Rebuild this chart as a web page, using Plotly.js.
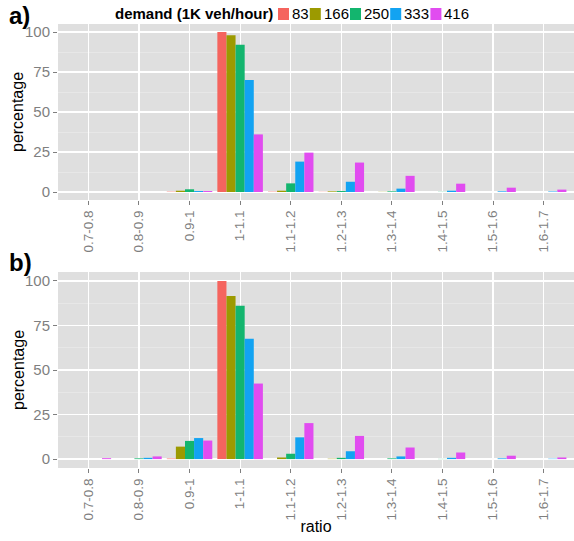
<!DOCTYPE html>
<html><head><meta charset="utf-8">
<script src="https://cdn.plot.ly/plotly-3.0.1.min.js"></script>
<style>html,body{margin:0;padding:0;background:#fff}</style>
</head><body><div id="chart" style="width:574px;height:541px"></div>
<script>
// ---- data ----
const ratioBins = ['0.7-0.8','0.8-0.9','0.9-1','1-1.1','1.1-1.2','1.2-1.3','1.3-1.4','1.4-1.5','1.5-1.6','1.6-1.7'];
const demandLevels = ['83','166','250','333','416'];
const seriesColors = ['#F5645E','#9C9A00','#13B56E','#12A3F2','#E14CF0'];
// panel a)
const a83  = [0, 0, 0.2, 100, 0.2, 0.1, 0,   0,   0,   0];
const a166 = [0, 0, 0.8, 98,  0.8, 0.4, 0.1, 0,   0,   0];
const a250 = [0, 0, 1.7, 92,  5.4, 0.6, 0.4, 0.1, 0,   0];
const a333 = [0, 0, 0.6, 70,  19,  6.4, 2.1, 0.8, 0.4, 0.3];
const a416 = [0, 0, 0.6, 36,  24.6,18.4,10.1,5.2, 2.7, 1.5];
// panel b)
const b83  = [0,   0,   0.3, 100,  0,    0,   0,   0,   0,   0];
const b166 = [0,   0,   7,   91.5, 0.9,  0.2, 0,   0,   0,   0];
const b250 = [0,   0.4, 10.2,86,   3,    0.7, 0.4, 0.1, 0,   0];
const b333 = [0,   0.7, 11.8,67.6, 12.2, 4.4, 1.5, 0.7, 0.4, 0.2];
const b416 = [0.5, 1.5, 10.4,42.4, 20.2, 13,  6.5, 3.7, 1.9, 0.9];

const panelA = [a83, a166, a250, a333, a416];
const panelB = [b83, b166, b250, b333, b416];

// ---- geometry helpers (pixels -> paper) ----
const W = 574, H = 541;
const px = v => v / W;
const py = v => 1 - v / H;

const traces = [];
panelA.forEach((vals, i) => traces.push({
  type: 'bar', x: ratioBins, y: vals, name: demandLevels[i],
  marker: {color: seriesColors[i], line: {width: 0}},
  xaxis: 'x', yaxis: 'y', showlegend: false, hoverinfo: 'x+y+name'
}));
panelB.forEach((vals, i) => traces.push({
  type: 'bar', x: ratioBins, y: vals, name: demandLevels[i],
  marker: {color: seriesColors[i], line: {width: 0}},
  xaxis: 'x2', yaxis: 'y2', showlegend: false, hoverinfo: 'x+y+name'
}));

const font = 'Liberation Sans, Arial, sans-serif';
const gridCol = '#FFFFFF';

function xAx(anchor, withTitle) {
  const ax = {
    domain: [px(58), 1], anchor: anchor, type: 'category',
    range: [-0.6, 9.6], showgrid: true, gridcolor: gridCol, gridwidth: 1.2,
    ticks: 'outside', ticklen: 4, tickcolor: '#7F7F7F', tickwidth: 1,
    tickangle: -90, tickfont: {family: font, size: 13.5, color: '#7F7F7F'},
    showline: false, zeroline: false, automargin: false
  };
  if (withTitle) ax.title = {text: 'ratio', font: {family: font, size: 16, color: '#000'}, standoff: 1};
  return ax;
}
function yAx(anchor, top, bottom) {
  return {
    domain: [py(bottom), py(top)], anchor: anchor,
    range: [-5, 105], tick0: 0, dtick: 25,
    showgrid: true, gridcolor: gridCol, gridwidth: 1.2,
    minor: {tick0: 12.5, dtick: 25, showgrid: true, gridcolor: '#EDEDED', gridwidth: 0.6},
    ticks: 'outside', ticklen: 4, tickcolor: '#7F7F7F', tickwidth: 1,
    tickfont: {family: font, size: 15, color: '#7F7F7F'},
    showline: false, zeroline: false, automargin: false
  };
}

// ---- custom horizontal legend (ggplot style) ----
const shapes = [];
const annotations = [];
const legY = 14;
annotations.push({
  xref: 'paper', yref: 'paper', x: px(275), y: py(legY), xanchor: 'right', yanchor: 'middle',
  text: '<b>demand (1K veh/hour)</b>', showarrow: false,
  font: {family: font, size: 15, color: '#000'}
});
let lx = 278;
demandLevels.forEach((lab, i) => {
  shapes.push({type: 'rect', xref: 'paper', yref: 'paper',
    x0: px(lx), x1: px(lx + 11), y0: py(legY + 6), y1: py(legY - 6),
    fillcolor: seriesColors[i], line: {width: 0}});
  annotations.push({xref: 'paper', yref: 'paper', x: px(lx + 12), y: py(legY),
    xanchor: 'left', yanchor: 'middle', text: lab, showarrow: false,
    font: {family: font, size: 15, color: '#000'}});
  lx += 12 + lab.length * 8.4 + 3;
});

// y-axis titles
[[112], [370]].forEach(([cy]) => annotations.push({
  xref: 'paper', yref: 'paper', x: px(18), y: py(cy), xanchor: 'center', yanchor: 'middle',
  text: 'percentage', textangle: -90, showarrow: false,
  font: {family: font, size: 16, color: '#000'}
}));

// panel letters
annotations.push({xref: 'paper', yref: 'paper', x: px(7), y: py(0), xanchor: 'left', yanchor: 'top',
  text: '<b>a)</b>', showarrow: false, font: {family: font, size: 24, color: '#000'}});
annotations.push({xref: 'paper', yref: 'paper', x: px(7), y: py(247), xanchor: 'left', yanchor: 'top',
  text: '<b>b)</b>', showarrow: false, font: {family: font, size: 24, color: '#000'}});

const layout = {
  width: W, height: H, autosize: false,
  margin: {l: 0, r: 0, t: 0, b: 0, pad: 0},
  paper_bgcolor: '#FFFFFF', plot_bgcolor: '#DFDFDF',
  barmode: 'group', bargap: 0.1, bargroupgap: 0,
  showlegend: false,
  font: {family: font},
  xaxis: xAx('y', false),
  yaxis: yAx('x', 24, 200),
  xaxis2: xAx('y2', true),
  yaxis2: yAx('x2', 272, 468),
  shapes: shapes,
  annotations: annotations
};

Plotly.newPlot('chart', traces, layout, {staticPlot: true, displayModeBar: false});
</script>
</body></html>
